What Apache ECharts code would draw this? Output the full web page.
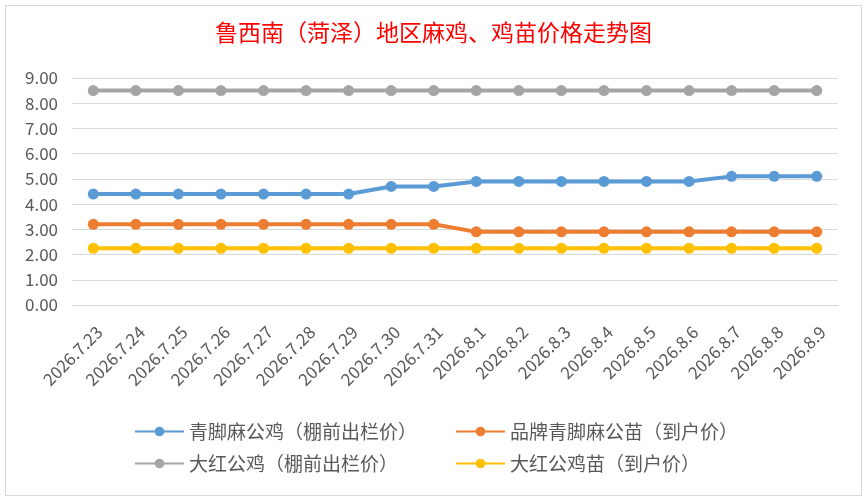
<!DOCTYPE html>
<html><head><meta charset="utf-8">
<script src="https://cdn.jsdelivr.net/npm/echarts@6/dist/echarts.min.js"></script>
<style>
html,body{margin:0;padding:0;background:#fff;}
#wrap{position:absolute;left:5px;top:5px;width:855px;height:489px;border:1px solid #d9d9d9;background:#fff;}
#c{position:absolute;left:-6px;top:-6px;width:867px;height:501px;}
</style></head>
<body>
<div id="wrap"><div id="c"></div></div>
<script>
const categories = ['2026.7.23','2026.7.24','2026.7.25','2026.7.26','2026.7.27','2026.7.28','2026.7.29','2026.7.30','2026.7.31','2026.8.1','2026.8.2','2026.8.3','2026.8.4','2026.8.5','2026.8.6','2026.8.7','2026.8.8','2026.8.9'];
const qingjiaoRooster = [4.4,4.4,4.4,4.4,4.4,4.4,4.4,4.7,4.7,4.9,4.9,4.9,4.9,4.9,4.9,5.1,5.1,5.1];
const brandChick = [3.2,3.2,3.2,3.2,3.2,3.2,3.2,3.2,3.2,2.9,2.9,2.9,2.9,2.9,2.9,2.9,2.9,2.9];
const redRooster = [8.5,8.5,8.5,8.5,8.5,8.5,8.5,8.5,8.5,8.5,8.5,8.5,8.5,8.5,8.5,8.5,8.5,8.5];
const redChick = [2.25,2.25,2.25,2.25,2.25,2.25,2.25,2.25,2.25,2.25,2.25,2.25,2.25,2.25,2.25,2.25,2.25,2.25];
const names = ['青脚麻公鸡（棚前出栏价）','品牌青脚麻公苗（到户价）','大红公鸡（棚前出栏价）','大红公鸡苗（到户价）'];
const colors = ['#5b9bd5','#ed7d31','#a5a5a5','#ffc000'];
const datas = [qingjiaoRooster, brandChick, redRooster, redChick];

const chart = echarts.init(document.getElementById('c'));
const font = '"Noto Sans CJK SC", "Noto Sans", sans-serif';
const legendPos = [[129,417],[450,417],[129,449],[450,449]];
chart.setOption({
  animation:false,
  backgroundColor:'transparent',
  color: colors,
  title:{text:'鲁西南（菏泽）地区麻鸡、鸡苗价格走势图',left:'center',top:16,
    textStyle:{color:'#ff0000',fontSize:23,fontWeight:'normal',fontFamily:'"Noto Sans CJK SC", serif'}},
  legend: names.map((n,i)=>({data:[n],left:legendPos[i][0],top:legendPos[i][1],
    itemWidth:49,itemHeight:12,itemGap:4,
    textStyle:{color:'#595959',fontSize:19,fontFamily:font}})),
  grid:{left:72,right:29,top:78,bottom:196},
  xAxis:{type:'category',data:categories,boundaryGap:true,
    axisLine:{lineStyle:{color:'#d9d9d9'}},axisTick:{show:false},
    axisLabel:{rotate:45,color:'#595959',fontSize:17,fontFamily:font,margin:18,interval:0,verticalAlign:'top'}},
  yAxis:{type:'value',min:0,max:9,interval:1,
    axisLine:{show:false},axisTick:{show:false},
    splitLine:{lineStyle:{color:'#d9d9d9',width:1}},
    axisLabel:{formatter:v=>v.toFixed(2),color:'#595959',fontSize:17,fontFamily:font,margin:14}},
  series: names.map((n,i)=>({name:n,type:'line',data:datas[i],symbol:'circle',symbolSize:11,
    lineStyle:{width:4,color:colors[i]},itemStyle:{color:colors[i]}}))
});
</script>
</body></html>
